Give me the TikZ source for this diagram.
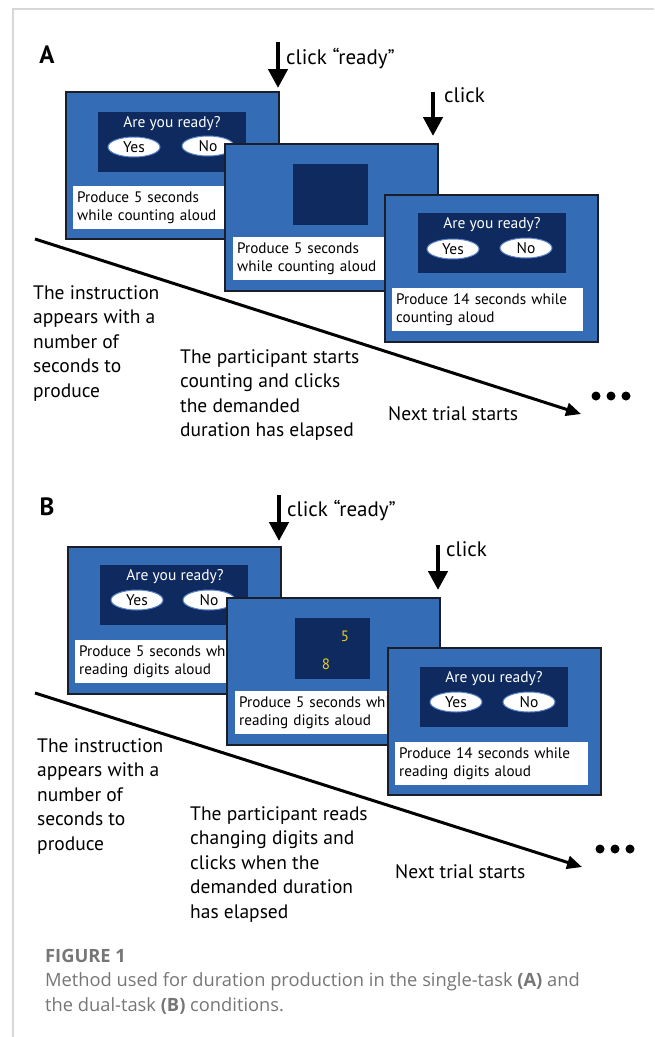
\documentclass[tikz,border=0pt]{standalone}
\usepackage{fontspec}
\setmainfont{PT Sans}
\newfontfamily\capfont{Open Sans}
\usetikzlibrary{shapes.geometric,arrows.meta}
\definecolor{scrblue}{RGB}{53,108,182}
\definecolor{navy}{RGB}{14,42,95}
\definecolor{scrborder}{RGB}{25,30,40}
\definecolor{ovalrim}{RGB}{90,130,200}
\definecolor{digit}{RGB}{232,210,30}
\definecolor{framegray}{RGB}{215,215,215}
\definecolor{capgray}{RGB}{118,118,118}
\begin{document}
\begin{tikzpicture}[x=1pt,y=-1pt,
  screen/.style={draw=scrborder,line width=2pt,fill=scrblue,anchor=north west,minimum width=213pt,minimum height=147pt,inner sep=0pt},
  panel/.style={fill=navy,anchor=north west,minimum width=148pt,minimum height=60pt,inner sep=0pt},
  sq/.style={fill=navy,anchor=north west,minimum width=75pt,minimum height=61pt,inner sep=0pt},
  ask/.style={text=white,font=\fontsize{15.5}{18}\selectfont,inner sep=0pt},
  oval/.style={ellipse,fill=white,draw=ovalrim,line width=1pt,minimum width=52pt,minimum height=20pt,inner sep=0pt,font=\fontsize{15.5}{18}\selectfont},
  msg/.style={fill=white,anchor=north west,minimum height=43pt,inner xsep=4pt,inner ysep=0pt,align=left,font=\fontsize{15.2}{18.5}\selectfont},
  note/.style={anchor=north west,inner sep=0pt,align=left,font=\fontsize{19.5}{24.5}\selectfont},
  clicklbl/.style={anchor=west,inner sep=0pt,font=\fontsize{21}{24}\selectfont},
  letter/.style={inner sep=0pt,font=\fontsize{25}{30}\selectfont\bfseries},
  clickarrow/.style={line width=4.5pt,-{Triangle[width=19pt,length=19pt]}},
  timearrow/.style={line width=3pt,-{Triangle[width=13pt,length=15pt]}},
  digitlbl/.style={text=digit,inner sep=0pt,font=\fontsize{15}{18}\selectfont},
  capn/.style={anchor=north west,inner sep=0pt,align=left,text=capgray,font=\capfont\fontsize{18.3}{24.5}\selectfont}
]
\useasboundingbox (0,0) rectangle (654,1037);
% frame
\coordinate (fr0) at (13,1037);
\coordinate (fr1) at (13,9);
\coordinate (fr2) at (654,9);
\draw[framegray,line width=1.5pt] (fr0) -- (fr1) -- (fr2);

% ===== Panel A =====
\node[letter] (labA) at (47,55) {A};
\coordinate (tA0) at (35,239);
\coordinate (tA1) at (581,414);
\draw[timearrow] (tA0) -- (tA1);
\fill (596,396) circle (4.5pt) (611,396) circle (4.5pt) (626,396) circle (4.5pt);

\coordinate (a1s) at (278,42); \coordinate (a1e) at (278,88);
\draw[clickarrow] (a1s) -- (a1e);
\node[clicklbl] (a1l) at (286,58) {click “ready”};
\coordinate (a2s) at (433,92); \coordinate (a2e) at (433,136);
\draw[clickarrow] (a2s) -- (a2e);
\node[clicklbl] (a2l) at (444,95) {click};

\node[screen] (sA1) at (65,91) {};
\node[panel] (pA1) at (98,112) {};
\node[ask] (qA1) at (172,124) {Are you ready?};
\node[oval] (yA1) at (134,147) {Yes};
\node[oval] (nA1) at (208,146) {No};
\node[msg,text width=190pt] (mA1) at (73,186) {Produce 5 seconds\\while counting aloud};

\node[screen] (sA2) at (224,143) {};
\node[sq] (dA2) at (293,164) {};
\node[msg,text width=190pt] (mA2) at (233,237) {Produce 5 seconds\\while counting aloud};

\node[screen] (sA3) at (384,194) {};
\node[panel] (pA3) at (418,213) {};
\node[ask] (qA3) at (492,225) {Are you ready?};
\node[oval] (yA3) at (453,249) {Yes};
\node[oval] (nA3) at (526,248) {No};
\node[msg,text width=183pt] (mA3) at (392,288) {Produce 14 seconds while\\counting aloud};

\node[note] (iA) at (33,285) {The instruction\\appears with a\\number of\\seconds to\\produce};
\node[note] (pA) at (180,349) {The participant starts\\counting and clicks\\the demanded\\duration has elapsed};
\node[note] (nA) at (388,406) {Next trial starts};

% ===== Panel B =====
\node[letter] (labB) at (47,507) {B};
\coordinate (tB0) at (35,693);
\coordinate (tB1) at (582,867);
\draw[timearrow] (tB0) -- (tB1);
\fill (600,849) circle (4.5pt) (615,849) circle (4.5pt) (630,849) circle (4.5pt);

\coordinate (b1s) at (279,495); \coordinate (b1e) at (279,541);
\draw[clickarrow] (b1s) -- (b1e);
\node[clicklbl] (b1l) at (287,510) {click “ready”};
\coordinate (b2s) at (438,545); \coordinate (b2e) at (438,590);
\draw[clickarrow] (b2s) -- (b2e);
\node[clicklbl] (b2l) at (446,549) {click};

\node[screen] (sB1) at (67,546) {};
\node[panel] (pB1) at (100,565) {};
\node[ask] (qB1) at (175,577) {Are you ready?};
\node[oval] (yB1) at (137,600) {Yes};
\node[oval] (nB1) at (209,600) {No};
\node[msg,text width=190pt] (mB1) at (75,640) {Produce 5 seconds while\\reading digits aloud};

\node[screen] (sB2) at (226,597) {};
\node[sq] (dB2) at (295,618) {};
\node[digitlbl] (d5) at (345,636) {5};
\node[digitlbl] (d8) at (326,664) {8};
\node[msg,text width=190pt] (mB2) at (235,691) {Produce 5 seconds while\\reading digits aloud};

\node[screen] (sB3) at (387,647) {};
\node[panel] (pB3) at (420,667) {};
\node[ask] (qB3) at (494,679) {Are you ready?};
\node[oval] (yB3) at (456,702) {Yes};
\node[oval] (nB3) at (529,702) {No};
\node[msg,text width=185pt] (mB3) at (395,742) {Produce 14 seconds while\\reading digits aloud};

\node[note] (iB) at (37,738) {The instruction\\appears with a\\number of\\seconds to\\produce};
\node[note] (pB) at (190,806) {The participant reads\\changing digits and\\clicks when the\\demanded duration\\has elapsed};
\node[note] (nB) at (395,864) {Next trial starts};

% caption
\node[capn] (cap) at (45,949) {\bfseries FIGURE 1\\Method used for duration production in the single-task \textbf{(A)} and\\the dual-task \textbf{(B)} conditions.};
\end{tikzpicture}
\end{document}
